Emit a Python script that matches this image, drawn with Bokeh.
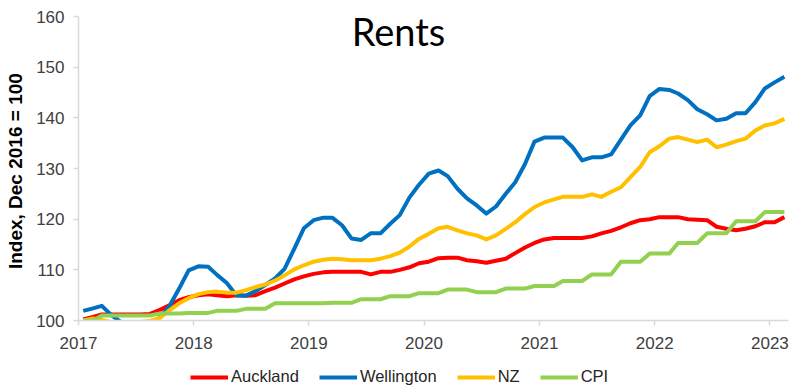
import pandas as pd
from bokeh.plotting import figure
from bokeh.layouts import column
from bokeh.models import (Range1d, FixedTicker, DatetimeTickFormatter, Legend,
                          LegendItem, Label)
from bokeh.embed import file_html
from bokeh.resources import INLINE

# ---- data (monthly, Jan 2017 .. Feb 2023), index Dec 2016 = 100 ----
months = pd.date_range("2017-01-01", periods=74, freq="MS")

auckland = [100.2, 100.7, 101.2, 101.2, 101.2, 101.2, 101.2, 101.3, 102.1, 103.0,
            104.0, 104.6, 105.0, 105.2, 105.0, 104.8, 105.0, 104.9, 105.0, 105.8,
            106.5, 107.3, 108.1, 108.7, 109.2, 109.5, 109.6, 109.6, 109.6, 109.6,
            109.1, 109.6, 109.6, 110.0, 110.5, 111.3, 111.6, 112.3, 112.4, 112.4,
            111.9, 111.7, 111.4, 111.8, 112.2, 113.3, 114.4, 115.3, 116.0, 116.3,
            116.3, 116.3, 116.3, 116.6, 117.2, 117.7, 118.4, 119.2, 119.8, 120.0,
            120.4, 120.4, 120.4, 120.0, 119.9, 119.8, 118.5, 118.1, 117.8, 118.1,
            118.6, 119.4, 119.4, 120.4]

wellington = [101.9, 102.4, 102.9, 101.0, 99.7, 99.2, 99.0, 99.2, 100.6, 102.8,
              106.3, 109.9, 110.7, 110.6, 109.0, 107.4, 105.0, 104.9, 105.8, 107.0,
              108.3, 110.2, 114.2, 118.2, 119.8, 120.3, 120.3, 118.8, 116.2, 115.9,
              117.2, 117.2, 119.1, 120.8, 124.3, 126.8, 129.0, 129.6, 128.5, 126.0,
              124.1, 122.7, 121.1, 122.5, 125.0, 127.3, 130.9, 135.3, 136.1, 136.1,
              136.1, 134.2, 131.6, 132.2, 132.2, 132.8, 135.7, 138.5, 140.5, 144.3,
              145.7, 145.5, 144.8, 143.5, 141.7, 140.7, 139.5, 139.8, 140.9, 140.9,
              143.1, 145.8, 147.0, 148.1]

nz = [100.0, 100.4, 100.1, 99.6, 99.5, 99.5, 99.7, 99.9, 100.5, 102.0,
      103.4, 104.4, 105.2, 105.6, 105.7, 105.5, 105.5, 106.0, 106.6, 107.1,
      107.9, 108.9, 110.1, 110.9, 111.6, 112.0, 112.2, 112.1, 111.9, 111.9,
      111.9, 112.2, 112.7, 113.4, 114.6, 116.1, 117.1, 118.2, 118.5, 117.8,
      117.2, 116.8, 116.0, 116.8, 118.1, 119.4, 121.0, 122.4, 123.3, 123.9,
      124.4, 124.4, 124.4, 124.9, 124.4, 125.4, 126.3, 128.3, 130.3, 133.2,
      134.4, 135.9, 136.2, 135.7, 135.2, 135.7, 134.2, 134.7, 135.4, 135.9,
      137.5, 138.5, 138.9, 139.8]

cpi = [100.0, 100.0, 101.0, 101.0, 101.0, 101.0, 101.0, 101.0, 101.4, 101.4,
       101.4, 101.5, 101.5, 101.5, 101.9, 101.9, 101.9, 102.3, 102.3, 102.3,
       103.4, 103.4, 103.4, 103.4, 103.4, 103.4, 103.5, 103.5, 103.5, 104.2,
       104.2, 104.2, 104.8, 104.8, 104.8, 105.4, 105.4, 105.4, 106.1, 106.1,
       106.1, 105.6, 105.6, 105.6, 106.3, 106.3, 106.3, 106.8, 106.8, 106.8,
       107.8, 107.8, 107.8, 109.1, 109.1, 109.1, 111.6, 111.6, 111.6, 113.2,
       113.2, 113.2, 115.3, 115.3, 115.3, 117.2, 117.2, 117.2, 119.6, 119.6,
       119.6, 121.4, 121.4, 121.4]

series_names = ["Auckland", "Wellington", "NZ", "CPI"]
series_colors = ["#FF0000", "#0070C0", "#FFC000", "#92D050"]
tick_years = [2017, 2018, 2019, 2020, 2021, 2022, 2023]
y_ticks = [100, 110, 120, 130, 140, 150, 160]

series_values = [auckland, wellington, nz, cpi]

# points sit in the middle of each month
x = months + pd.Timedelta(days=15)

p = figure(width=792, height=360, x_axis_type="datetime",
           output_backend="svg", toolbar_location=None,
           x_range=Range1d(pd.Timestamp("2017-01-01"), pd.Timestamp("2023-03-01")),
           y_range=Range1d(100, 160),
           min_border_left=78, min_border_right=4,
           min_border_top=16, min_border_bottom=40)

p.xgrid.grid_line_color = None
p.ygrid.grid_line_color = None
p.outline_line_color = None
p.background_fill_color = "white"

for col, ys in zip(series_colors, series_values):
    p.line(x, ys, line_color=col, line_width=4, line_join="round")

# axes
p.xaxis.ticker = FixedTicker(ticks=[pd.Timestamp(f"{y}-01-01").value // 10**6 for y in tick_years])
p.xaxis.formatter = DatetimeTickFormatter(years="%Y", months="%Y", days="%Y",
                                          hours="%Y", minutes="%Y", seconds="%Y")
p.yaxis.ticker = FixedTicker(ticks=y_ticks)

for ax in (p.xaxis, p.yaxis):
    ax.axis_line_color = "#d9d9d9"
    ax.axis_line_width = 1.5
    ax.major_tick_line_color = "#d9d9d9"
    ax.major_tick_line_width = 1.5
    ax.major_tick_out = 5
    ax.major_tick_in = 0
    ax.minor_tick_line_color = None
    ax.major_label_text_font = "Liberation Sans"
    ax.major_label_text_font_size = "17px"
    ax.major_label_text_color = "#404040"
p.yaxis.major_label_standoff = 9
p.xaxis.major_label_standoff = 11

p.yaxis.axis_label = "Index,  Dec 2016 = 100"
p.yaxis.axis_label_text_font = "Liberation Sans"
p.yaxis.axis_label_text_font_style = "bold"
p.yaxis.axis_label_text_font_size = "19px"
p.yaxis.axis_label_text_color = "black"
p.yaxis.axis_label_standoff = 7

# title inside the plot area
title = Label(x=320, y=290, x_units="screen", y_units="screen", text="Rents",
              text_align="center", text_baseline="middle",
              text_font="Lato", text_font_size="38px", text_color="black")
p.add_layout(title)

# legend strip underneath the chart (its lines lie outside its own ranges)
lg = figure(width=792, height=28, output_backend="svg", toolbar_location=None,
            x_range=Range1d(0, 1), y_range=Range1d(0, 1),
            x_axis_location=None, y_axis_location=None,
            min_border_left=78, min_border_right=4, min_border_top=0, min_border_bottom=0)
lg.xgrid.grid_line_color = None
lg.ygrid.grid_line_color = None
lg.outline_line_color = None
legend_renderers = [lg.line(x, ys, line_color=c, line_width=4)
                    for c, ys in zip(series_colors, series_values)]

legend = Legend(items=[LegendItem(label=n, renderers=[r]) for n, r in zip(series_names, legend_renderers)],
                orientation="horizontal", location=(112, 2),
                padding=0, margin=0, spacing=20, glyph_width=38, glyph_height=16,
                label_standoff=3, label_height=16,
                label_text_font="Liberation Sans", label_text_font_size="16.5px",
                label_text_color="#262626",
                border_line_color=None, background_fill_alpha=0)
lg.add_layout(legend)

layout = column(p, lg, spacing=0)
open("out.html", "w").write(file_html(layout, INLINE))
